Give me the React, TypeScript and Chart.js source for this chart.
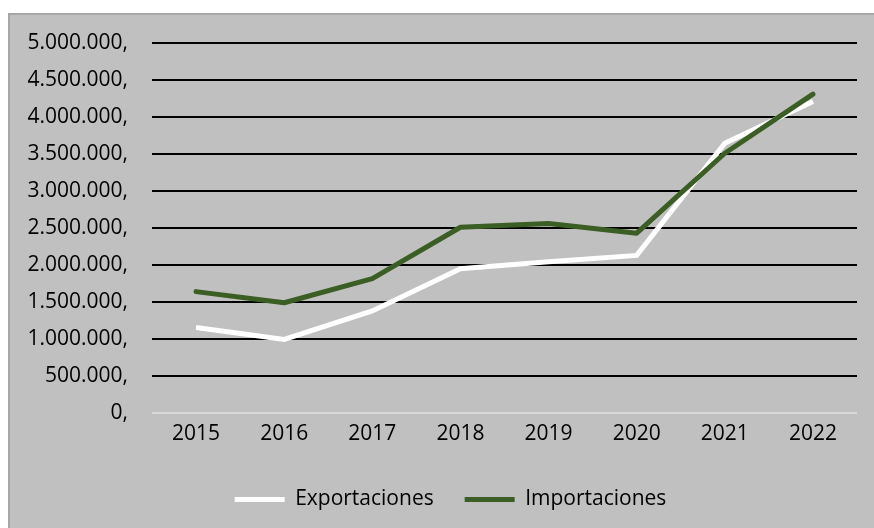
import React, { useEffect, useRef } from 'react';
import { Chart, registerables } from 'chart.js';

Chart.register(...registerables);

const years = ['2015', '2016', '2017', '2018', '2019', '2020', '2021', '2022'];
const exportaciones = [1155000, 995000, 1380000, 1950000, 2045000, 2130000, 3645000, 4210000];
const importaciones = [1640000, 1490000, 1815000, 2510000, 2560000, 2430000, 3510000, 4310000];
const yMin = 0;
const yMax = 5000000;
const yStep = 500000;

const FONT = "'Open Sans', sans-serif";

const legendShift = {
  id: 'legendShift',
  afterLayout(chart: any) {
    if (chart.legend) {
      chart.legend.left += 17;
      chart.legend.right += 17;
    }
  },
};

export default function App() {
  const ref = useRef<HTMLCanvasElement>(null);
  useEffect(() => {
    if (!ref.current) return;
    const chart = new Chart(ref.current, {
      type: 'line',
      plugins: [legendShift],
      data: {
        labels: years,
        datasets: [
          {
            label: 'Exportaciones',
            data: exportaciones,
            borderColor: '#ffffff',
            backgroundColor: '#ffffff',
            borderWidth: 5,
            pointRadius: 0,
            tension: 0,
            order: 2,
          },
          {
            label: 'Importaciones',
            data: importaciones,
            borderColor: '#3a5e24',
            backgroundColor: '#3a5e24',
            borderWidth: 5,
            borderCapStyle: 'round',
            borderJoinStyle: 'round',
            pointRadius: 0,
            tension: 0,
            order: 1,
          },
        ],
      },
      options: {
        responsive: false,
        animation: false,
        layout: { padding: { top: 28, right: 17, left: 0, bottom: 8 } },
        plugins: {
          tooltip: { enabled: false },
          legend: {
            position: 'bottom',
            labels: {
              font: { family: FONT, size: 21 },
              color: '#000',
              boxWidth: 50,
              boxHeight: 5,
              padding: 31,
              generateLabels: (c: any) =>
                c.data.datasets.map((ds: any, i: number) => ({
                  text: ds.label,
                  fillStyle: ds.borderColor,
                  strokeStyle: ds.borderColor,
                  lineWidth: 0,
                  hidden: false,
                  datasetIndex: i,
                  fontColor: '#000',
                })),
            },
          },
        },
        scales: {
          x: {
            offset: true,
            grid: { display: false, drawTicks: false },
            border: { display: false },
            ticks: { font: { family: FONT, size: 21 }, color: '#000', padding: 8 },
            afterFit: (s: any) => { s.height = 45; },
          },
          y: {
            min: yMin,
            max: yMax,
            ticks: {
              stepSize: yStep,
              font: { family: FONT, size: 21 },
              color: '#000',
              padding: 24,
              callback: (v: any) => Number(v).toLocaleString('de-DE') + ',',
            },
            grid: {
              drawTicks: false,
              lineWidth: 2,
              color: (ctx: any) => (ctx.tick && ctx.tick.value === 0 ? '#d9d9d9' : '#000000'),
            },
            border: { display: false },
            afterFit: (s: any) => {
              s.width = 142;
              s.paddingTop = 0;
              s.paddingBottom = 0;
            },
          },
        },
      },
    });
    return () => chart.destroy();
  }, []);
  return (
    <div
      style={{
        position: 'absolute',
        left: 8,
        top: 13,
        width: 866,
        height: 515,
        boxSizing: 'border-box',
        borderLeft: '2px solid #a6a6a6',
        borderTop: '2px solid #a6a6a6',
        background: '#c0c0c0',
      }}
    >
      <canvas ref={ref} width={864} height={513} style={{ display: 'block' }} />
    </div>
  );
}
